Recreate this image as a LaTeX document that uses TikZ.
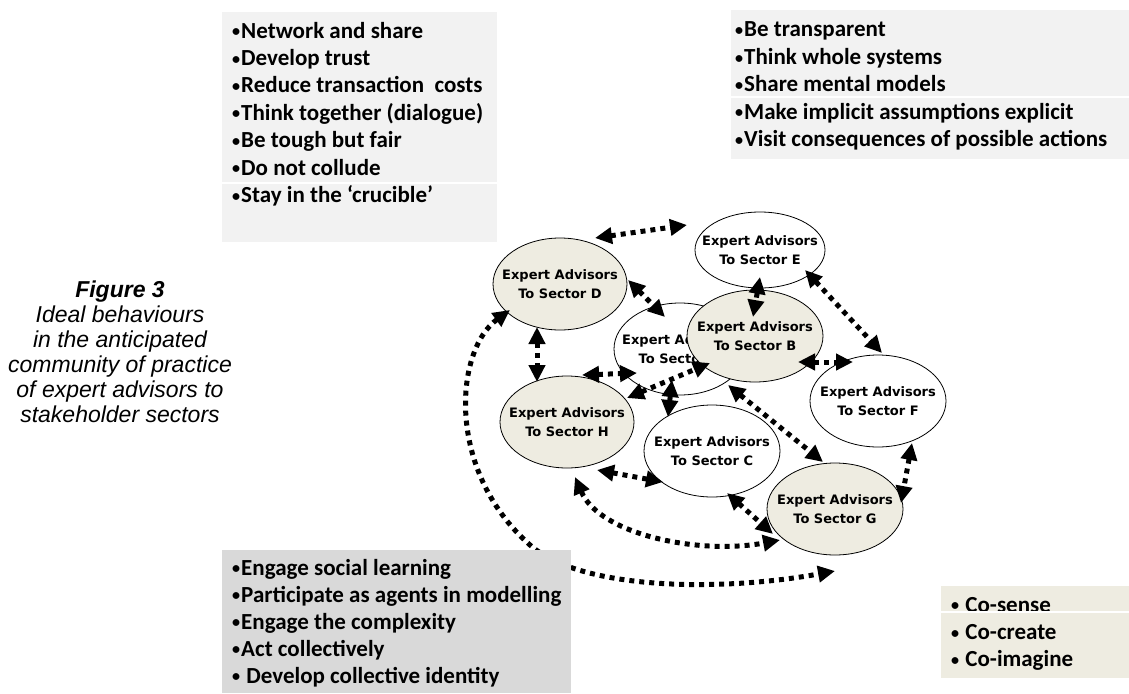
\documentclass[tikz,border=0pt]{standalone}
\usepackage{graphicx}
\usepackage{fontspec}
\setmainfont{Carlito}
\newfontfamily\ellfamily{DejaVu Sans}
\newfontfamily\capfamily{Liberation Sans}
\usetikzlibrary{shapes.geometric,arrows.meta}
\definecolor{boxgray}{HTML}{F2F2F2}
\definecolor{boxdark}{HTML}{D9D9D9}
\definecolor{tanfill}{HTML}{EEECE1}
\newcommand\linestack[2]{\vtop{\baselineskip=#1\relax\lineskiplimit=-100pt\relax\halign{##\hfil\cr#2\crcr}}}
\newcommand\bul{\raisebox{1.2pt}{\scalebox{0.7}{•}}\kern1pt}
\tikzset{
  boxtext/.style={font={\bfseries\fontsize{23}{27}\selectfont}, anchor=base west, inner sep=0pt},
  ell/.style={ellipse, draw, line width=0.8pt, inner sep=0pt},
  elltext/.style={font={\ellfamily\bfseries\fontsize{13}{19}\selectfont}, align=center, inner sep=0pt},
  conn/.style={line width=5pt, dash pattern=on 5pt off 5pt,
    {Triangle[length=17pt,width=16pt]}-{Triangle[length=17pt,width=16pt]}},
  sep/.style={white, line width=1.2pt}
}
\begin{document}
\begin{tikzpicture}[x=1pt,y=-1pt]
\useasboundingbox (0,0) rectangle (1129,693);
% top boxes
\fill[boxgray] (222,12) rectangle (497,242);
\draw[sep] (222,183) -- (497,183);
\node[boxtext] (tl) at (232,38) {\linestack{27.4pt}{%
\bul Network and share\cr
\bul Develop trust\cr
\bul Reduce transaction~~costs\cr
\bul Think together (dialogue)\cr
\bul Be tough but fair\cr
\bul Do not collude\cr
\bul Stay in the ‘crucible’}};
\fill[boxgray] (731,10) rectangle (1129,159);
\draw[sep] (731,97) -- (1129,97);
\node[boxtext] (tr) at (735,37) {\linestack{27.4pt}{%
\bul Be transparent\cr
\bul Think whole systems\cr
\bul Share mental models\cr
\bul Make implicit assumptions explicit\cr
\bul Visit consequences of possible actions}};
% caption
\node[font={\capfamily\itshape\fontsize{23}{25}\selectfont}, align=center, inner sep=0pt] (cap) at (120,352)
  {{\bfseries Figure 3}\\Ideal behaviours\\in the anticipated\\community of practice\\of expert advisors to\\stakeholder sectors};
% ellipses
\node[ell, fill=tanfill, minimum width=134pt, minimum height=92pt,
  label={[elltext]center:Expert Advisors\\To Sector D}] (D) at (560,284) {};
\node[ell, fill=white, minimum width=130pt, minimum height=76pt,
  label={[elltext]center:Expert Advisors\\To Sector E}] (E) at (760,250) {};
\node[ell, fill=white, minimum width=132pt, minimum height=92pt,
  label={[elltext]center:Expert Advisors\\To Sector A}] (A) at (680,349) {};
\node[ell, fill=tanfill, minimum width=136pt, minimum height=92pt,
  label={[elltext]center:Expert Advisors\\To Sector B}] (B) at (755,336) {};
\node[ell, fill=tanfill, minimum width=134pt, minimum height=92pt,
  label={[elltext]center:Expert Advisors\\To Sector H}] (H) at (567,422) {};
\node[ell, fill=white, minimum width=136pt, minimum height=92pt,
  label={[elltext]center:Expert Advisors\\To Sector C}] (C) at (712,451) {};
\node[ell, fill=white, minimum width=136pt, minimum height=92pt,
  label={[elltext]center:Expert Advisors\\To Sector F}] (F) at (878,401) {};
\node[ell, fill=tanfill, minimum width=136pt, minimum height=92pt,
  label={[elltext]center:Expert Advisors\\To Sector G}] (G) at (835,509) {};
% connectors
\draw[conn] ([shift={(35,-46)}]D.center) -- ([shift={(-73,-25)}]E.center);
\draw[conn] ([shift={(68,-4)}]D.center) -- ([shift={(-15,-32)}]A.center);
\draw[conn] ([shift={(0,27)}]E.center) -- ([shift={(-2,-19)}]B.center);
\draw[conn] ([shift={(43,26)}]B.center) -- ([shift={(-25,-39)}]F.center);
\draw[conn] ([shift={(45,20)}]E.center) -- ([shift={(4,-48)}]F.center);
\draw[conn] ([shift={(-23,43)}]D.center) -- ([shift={(-30,-40)}]H.center);
\draw[conn] ([shift={(15,-47)}]H.center) -- ([shift={(-43,24)}]A.center);
\draw[conn] ([shift={(60,-24)}]H.center) -- ([shift={(-45,27)}]B.center);
\draw[conn] ([shift={(-8,31)}]A.center) -- ([shift={(-44,-34)}]C.center);
\draw[conn] ([shift={(-27,49)}]B.center) -- ([shift={(-12,-47)}]G.center);
\draw[conn] ([shift={(30,48)}]H.center) -- ([shift={(-49,31)}]C.center);
\draw[conn] ([shift={(15,42)}]C.center) -- ([shift={(-62,25)}]G.center);
\draw[conn] ([shift={(34,42)}]F.center) -- ([shift={(66,-6)}]G.center);
\draw[conn] ([shift={(8,55)}]H.center) .. controls (600,535) and (700,555) .. ([shift={(-55,31)}]G.center);
\draw[conn] ([shift={(-50,26)}]D.center) .. controls (455,350) and (445,470) .. (530,545)
  .. controls (580,590) and (720,592) .. ([shift={(0,62)}]G.center);
% bottom boxes
\fill[boxdark] (222,550) rectangle (571,693);
\node[boxtext] (bl) at (232,575) {\linestack{27pt}{%
\bul Engage social learning\cr
\bul Participate as agents in modelling\cr
\bul Engage the complexity\cr
\bul Act collectively\cr
\bul\ Develop collective identity}};
\fill[tanfill] (941,586) rectangle (1129,678);
\node[boxtext] (br) at (951,612) {\linestack{27.3pt}{%
\bul\ Co-sense\cr
\bul\ Co-create\cr
\bul\ Co-imagine}};
\draw[sep] (941,612) -- (1129,612);
\end{tikzpicture}
\end{document}
